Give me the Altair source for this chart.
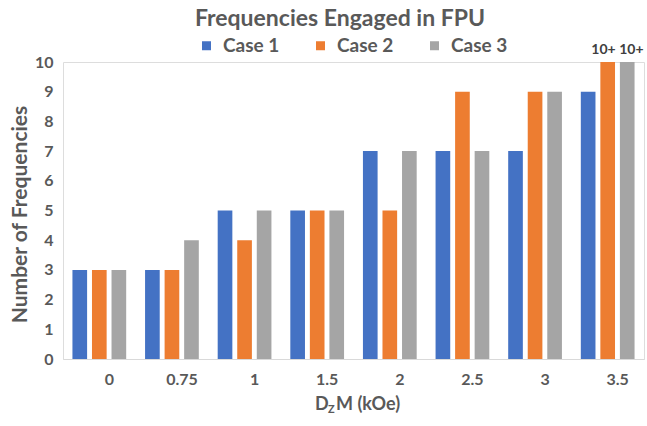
import altair as alt
import pandas as pd

categories = ["0", "0.75", "1", "1.5", "2", "2.5", "3", "3.5"]
series = ["Case 1", "Case 2", "Case 3"]
case1 = [3, 3, 5, 5, 7, 7, 7, 9]
case2 = [3, 3, 4, 5, 5, 9, 9, 10]
case3 = [3, 4, 5, 5, 7, 7, 9, 10]
notes1 = ["", "", "", "", "", "", "", ""]
notes2 = ["", "", "", "", "", "", "", "10+"]
notes3 = ["", "", "", "", "", "", "", "10+"]
colors = ["#4472C4", "#ED7D31", "#A5A5A5"]
title_text = ["Frequencies Engaged in FPU"]

rows = []
for s, vals, notes in zip(series, [case1, case2, case3], [notes1, notes2, notes3]):
    for c, v, n in zip(categories, vals, notes):
        rows.append({"category": c, "series": s, "value": v, "note": n})
df = pd.DataFrame(rows)

FONT = "Lato"
GREY = "#595959"

base = alt.Chart(df).encode(
    x=alt.X(
        "category:N",
        sort=categories,
        scale=alt.Scale(paddingInner=0.26, paddingOuter=0.13),
        axis=alt.Axis(
            title=None, labelAngle=0, labelFontSize=16, labelFont=FONT,
            labelFontWeight="bold", labelColor=GREY, ticks=False,
            labelPadding=12, labelOffset=10, domainColor="#D9D9D9", domainWidth=1,
        ),
    ),
    xOffset=alt.XOffset("series:N", sort=series,
                        scale=alt.Scale(paddingInner=0.25, paddingOuter=0)),
    y=alt.Y(
        "value:Q",
        scale=alt.Scale(domain=[0, 10], nice=False),
        axis=alt.Axis(
            title="Number of Frequencies", titleFontSize=21, titleFont=FONT,
            titleFontWeight="bold", titleColor=GREY, titleX=-43, titleY=152,
            titleAngle=-90, titleAlign="center", titleBaseline="middle",
            labelFontSize=16, labelFont=FONT, labelFontWeight="bold",
            labelColor=GREY, ticks=False, domain=False, grid=False,
            labelPadding=10, values=list(range(0, 11)),
        ),
    ),
)

bars = base.mark_bar().encode(
    color=alt.Color(
        "series:N",
        sort=series,
        scale=alt.Scale(domain=series, range=colors),
        legend=alt.Legend(
            title=None, orient="none", direction="horizontal", columns=3,
            legendX=134, legendY=-26, symbolType="square", symbolSize=81,
            symbolStrokeWidth=0, labelFontSize=19, labelFont=FONT,
            labelFontWeight="bold", labelColor=GREY, columnPadding=31,
            labelOffset=7, symbolOffset=0, padding=0,
        ),
    )
)

note_style = dict(baseline="alphabetic", dy=-8, fontSize=14, font=FONT,
                  fontWeight="bold", color="#404040")
notes_a = base.transform_filter(
    "datum.note != '' && datum.series == 'Case 2'"
).mark_text(align="right", dx=8, **note_style).encode(text="note:N")
notes_b = base.transform_filter(
    "datum.note != '' && datum.series == 'Case 3'"
).mark_text(align="left", dx=-8, **note_style).encode(text="note:N")

title = alt.Chart(pd.DataFrame({"t": title_text})).mark_text(
    align="center", baseline="alphabetic", fontSize=23, font=FONT,
    fontWeight="bold", color=GREY,
).encode(x=alt.value(277), y=alt.value(-36), text="t:N")

xt_d = alt.Chart(pd.DataFrame({"t": ["D"]})).mark_text(
    align="left", baseline="middle", fontSize=18, font=FONT, fontWeight="bold", color=GREY
).encode(x=alt.value(252), y=alt.value(343), text="t:N")
xt_z = alt.Chart(pd.DataFrame({"t": ["Z"]})).mark_text(
    align="left", baseline="middle", fontSize=11, font=FONT, fontWeight="bold", color=GREY
).encode(x=alt.value(265), y=alt.value(348), text="t:N")
xt_m = alt.Chart(pd.DataFrame({"t": ["M (kOe)"]})).mark_text(
    align="left", baseline="middle", fontSize=18, font=FONT, fontWeight="bold", color=GREY
).encode(x=alt.value(273), y=alt.value(343), text="t:N")

chart = alt.layer(bars, notes_a, notes_b, title, xt_d, xt_z, xt_m).properties(
    width=581,
    height=297,
    autosize=alt.AutoSizeParams(type="none"),
    padding={"left": 63, "top": 62, "right": 3, "bottom": 67},
).configure_view(stroke=None).configure(background="white")

chart.save("out.html", embed_options={"renderer": "svg", "actions": False})
